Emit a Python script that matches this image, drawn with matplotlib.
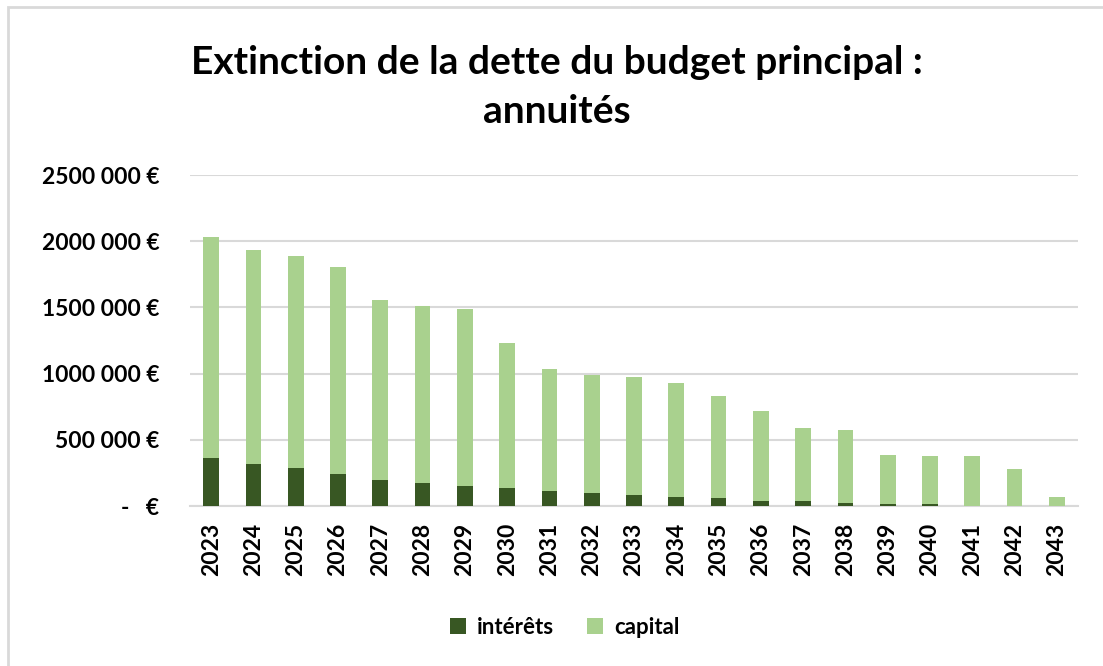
import matplotlib
matplotlib.use("Agg")
import matplotlib.pyplot as plt
from matplotlib.patches import Rectangle
from matplotlib.ticker import FuncFormatter

# Données (annuités en euros)
annees = [str(a) for a in range(2023, 2044)]
interets = [362500, 317500, 285000, 242500, 197500, 175000, 152500, 132500,
            110000, 97500, 82500, 70000, 57500, 35000, 35000, 25000,
            15000, 15000, 0, 0, 0]
totaux = [2030000, 1937500, 1885000, 1807500, 1552500, 1507500, 1487500,
          1232500, 1035000, 990000, 972500, 930000, 830000, 720000, 587500,
          575000, 387500, 377500, 377500, 277500, 67500]
capital = [t - i for t, i in zip(totaux, interets)]
y_ticks = [0, 500000, 1000000, 1500000, 2000000, 2500000]

COUL_INT = "#385723"
COUL_CAP = "#A9D18E"
GRIS = "#D9D9D9"
FONT = "Lato"


def format_euro(v, pos=None):
    v = int(round(v))
    if v == 0:
        return "-   €"
    return f"{v // 1000} {v % 1000:03d} €"


fig = plt.figure(figsize=(11.03, 6.66), dpi=100)
ax = fig.add_axes([0.1723, 0.2402, 0.805, 0.497])

x = range(len(annees))
ax.bar(x, interets, width=0.37, color=COUL_INT, label="intérêts", zorder=3)
ax.bar(x, capital, width=0.37, bottom=interets, color=COUL_CAP,
       label="capital", zorder=3)

ax.set_xlim(-0.5, len(annees) - 0.5)
ax.set_ylim(0, 2500000)
ax.set_yticks(y_ticks)
ax.yaxis.set_major_formatter(FuncFormatter(format_euro))
ax.set_xticks(list(x))
ax.set_xticklabels(annees, rotation=90)

# grille et axes façon Excel
ax.grid(axis="y", color=GRIS, linewidth=1.5, zorder=0)
for side in ["top", "right", "left"]:
    ax.spines[side].set_visible(False)
ax.spines["bottom"].set_color(GRIS)
ax.spines["bottom"].set_linewidth(1.5)
ax.tick_params(length=0)
ax.tick_params(axis="x", pad=12)
ax.tick_params(axis="y", pad=22)
for lab in ax.get_xticklabels() + ax.get_yticklabels():
    lab.set_fontfamily(FONT)
    lab.set_fontweight("bold")
    lab.set_fontsize(16.5)

fig.text(0.505, 0.869, "Extinction de la dette du budget principal :\nannuités",
         ha="center", va="center", fontsize=28, fontweight="bold",
         family=FONT, linespacing=1.5)

leg = fig.legend(loc="center", bbox_to_anchor=(0.512, 0.058), ncol=2,
                 frameon=False, prop={"family": FONT, "weight": "bold", "size": 16},
                 handlelength=0.7, handleheight=0.7, handletextpad=0.5,
                 columnspacing=1.5)

# cadre gris du graphique
fig.patches.append(Rectangle((8 / 1103, -0.1), 1.2, 1.1 - 7 / 666,
                             transform=fig.transFigure, fill=False,
                             edgecolor=GRIS, linewidth=2))

fig.savefig("out.png", dpi=100)
